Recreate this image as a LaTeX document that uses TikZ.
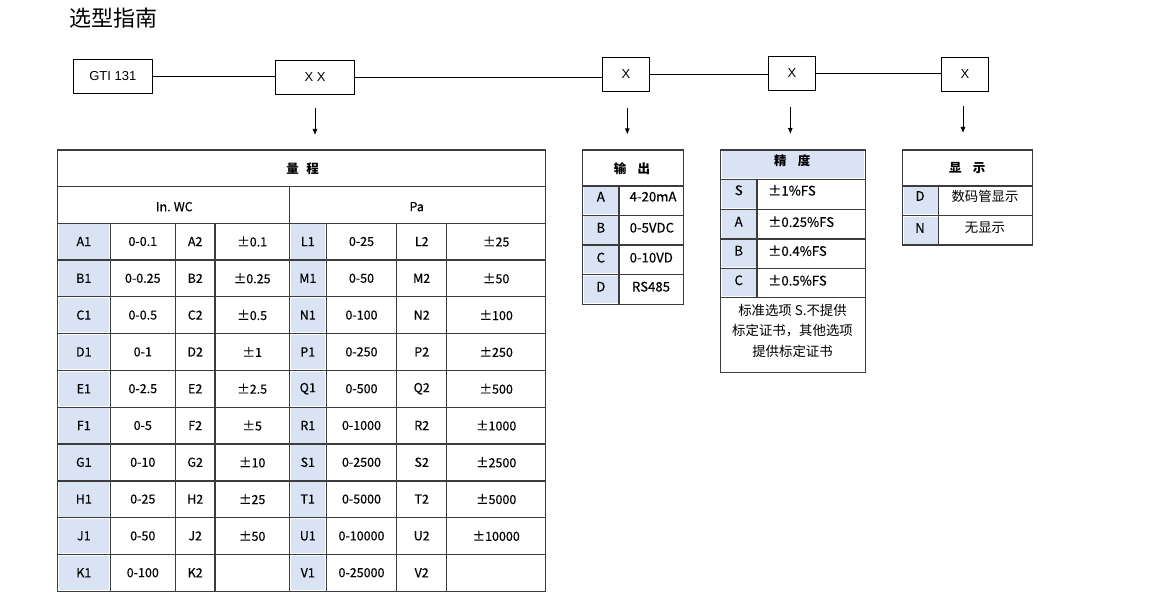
\documentclass[tikz,border=0pt]{standalone}
\usepackage{fontspec}
\setmainfont{Noto Sans CJK SC}
\newfontfamily\lat{Liberation Sans}
\newfontfamily\cellf[FakeBold=0.35]{Noto Sans CJK SC}
\newcommand\PMx{±}
\usetikzlibrary{arrows.meta}
\definecolor{lblue}{HTML}{DAE3F3}
\definecolor{grid}{HTML}{3C3C3C}
\tikzset{
  topbox/.style={draw=black,line width=1pt,minimum width=79pt,minimum height=34pt,inner sep=0pt,font=\lat\fontsize{13}{15}\selectfont},
  smallbox/.style={draw=black,line width=1pt,minimum width=47pt,minimum height=34pt,inner sep=0pt,font=\lat\fontsize{13}{15}\selectfont},
  link/.style={draw=black,line width=0.9pt},
  downarrow/.style={draw=black,line width=0.8pt,-{Latex[length=6pt,width=5pt]}},
  gridline/.style={draw=grid,line width=1.2pt},
  cell/.style={inner sep=0pt,font=\cellf\fontsize{12.5}{14}\selectfont},
  bcell/.style={inner sep=0pt,font=\cellf\fontsize{13.2}{15}\selectfont},
  head/.style={inner sep=0pt,font=\bfseries\fontsize{12.5}{14}\selectfont},
  note/.style={inner sep=0pt,font=\fontsize{13.4}{15}\selectfont},
}
\begin{document}
\begin{tikzpicture}[x=1pt,y=-1pt]
\useasboundingbox[fill=white] (0,0) rectangle (1165,609);
% title
\node[anchor=west,inner sep=0pt,font=\fontsize{22}{25}\selectfont] (title) at (69.5,18.5) {选型指南};
% top boxes
\node[topbox] (gti) at (112.8,76.3) {GTI 131};
\node[topbox] (xx) at (315,77.3) {X X};
\node[smallbox] (ox) at (626,74.5) {X};
\node[smallbox] (ax) at (792,73.5) {X};
\node[smallbox] (dx) at (965,74.5) {X};
\draw[link] (gti.east) -- (gti.east -| xx.west);
\draw[link] (xx.east) -- (xx.east -| ox.west);
\draw[link] (ox.east) -- (ox.east -| ax.west);
\draw[link] (ax.east) -- (ax.east -| dx.west);
% arrows
\coordinate (s1) at (315,108); \coordinate (e1) at (315,135);
\coordinate (s2) at (627.3,108); \coordinate (e2) at (627.3,134.5);
\coordinate (s3) at (790.3,107); \coordinate (e3) at (790.3,134);
\coordinate (s4) at (963,106); \coordinate (e4) at (963,133);
\draw[downarrow] (s1) -- (e1);
\draw[downarrow] (s2) -- (e2);
\draw[downarrow] (s3) -- (e3);
\draw[downarrow] (s4) -- (e4);
% ================= main table =================
\foreach \i in {0,...,9}{
  \fill[lblue] (58.5,{224.5+36.8*\i}) rectangle (109.3,{258.9+36.8*\i});
  \fill[lblue] (290.5,{224.5+36.8*\i}) rectangle (325.3,{258.9+36.8*\i});
}
\draw[gridline] (57.3,150) rectangle (545.7,591.3);
\draw[gridline] (57.3,186.7) -- (545.7,186.7);
\draw[gridline] (289.3,186.7) -- (289.3,591.3);
\foreach \i in {0,...,9}{
  \draw[gridline] (57.3,{223.3+36.8*\i}) -- (545.7,{223.3+36.8*\i});
}
\foreach \x in {110.3,175.3,215,326.3,396.7,446.7}{
  \draw[gridline] (\x,223.3) -- (\x,591.3);
}
\node[head] (mh) at (302.7,169) {量\hspace{0.6em}程};
\node[cell] (mu1) at (174.3,206.7) {In.\hspace{0.25em}WC};
\node[cell] (mu2) at (416.7,206.7) {Pa};
\foreach \a/\b/\c/\d/\e/\f/\g/\h [count=\i from 0] in {
  A1/0-0.1/A2/\PMx0.1/L1/0-25/L2/\PMx25,
  B1/0-0.25/B2/\PMx0.25/M1/0-50/M2/\PMx50,
  C1/0-0.5/C2/\PMx0.5/N1/0-100/N2/\PMx100,
  D1/0-1/D2/\PMx1/P1/0-250/P2/\PMx250,
  E1/0-2.5/E2/\PMx2.5/Q1/0-500/Q2/\PMx500,
  F1/0-5/F2/\PMx5/R1/0-1000/R2/\PMx1000,
  G1/0-10/G2/\PMx10/S1/0-2500/S2/\PMx2500,
  H1/0-25/H2/\PMx25/T1/0-5000/T2/\PMx5000,
  J1/0-50/J2/\PMx50/U1/0-10000/U2/\PMx10000,
  K1/0-100/K2/{}/V1/0-25000/V2/{}}{
  \pgfmathsetmacro\yy{223.3+36.8*\i+18.2}
  \node[cell] (r\i c1) at (83.8,\yy) {\a};
  \node[cell] (r\i c2) at (142.8,\yy) {\b};
  \node[cell] (r\i c3) at (195.2,\yy) {\c};
  \node[cell] (r\i c4) at (252.2,\yy) {\d};
  \node[cell] (r\i c5) at (307.8,\yy) {\e};
  \node[cell] (r\i c6) at (361.5,\yy) {\f};
  \node[cell] (r\i c7) at (421.7,\yy) {\g};
  \node[cell] (r\i c8) at (496.2,\yy) {\h};
}
% ================= output table =================
\foreach \ya/\yb in {186/215.3,215.3/245,245/274.7,274.7/304.3}{
  \fill[lblue] (583.9,\ya+1.2) rectangle (618,\yb-1.2);
}
\draw[gridline] (582.7,150) rectangle (683.7,304.3);
\foreach \y in {186,215.3,245,274.7}{\draw[gridline] (582.7,\y) -- (683.7,\y);}
\draw[gridline] (619,186) -- (619,304.3);
\node[head] (oh) at (632,168.5) {输\hspace{0.9em}出};
\node[bcell] (oa) at (600.8,196.7) {A};
\node[bcell] (ob) at (600.8,227.7) {B};
\node[bcell] (oc) at (600.8,257.7) {C};
\node[bcell] (od) at (600.8,286.7) {D};
\node[bcell,anchor=west] (oa2) at (629.5,196.7) {4-20mA};
\node[bcell,anchor=west] (ob2) at (629.5,227.7) {0-5VDC};
\node[bcell,anchor=west] (oc2) at (629.5,257.7) {0-10VD};
\node[bcell] (od2) at (651,286.7) {RS485};
% ================= accuracy table =================
\fill[lblue] (721.5,151.2) rectangle (864.1,178.1);
\foreach \ya/\yb in {179.3/209.3,209.3/239,239/268.3,268.3/297.7}{
  \fill[lblue] (721.5,\ya+1.2) rectangle (756,\yb-1.2);
}
\draw[gridline] (720.3,150) rectangle (865.3,372.3);
\foreach \y in {179.3,209.3,239,268.3,297.7}{\draw[gridline] (720.3,\y) -- (865.3,\y);}
\draw[gridline] (757,179.3) -- (757,297.7);
\node[head] (ah) at (792.3,160.5) {精\hspace{0.9em}度};
\node[bcell] (as) at (738.7,190.3) {S};
\node[bcell] (aa) at (738.7,221.7) {A};
\node[bcell] (ab) at (738.7,250.7) {B};
\node[bcell] (ac) at (738.7,280.3) {C};
\node[bcell,anchor=west] (as2) at (768,190.3) {\PMx1\%FS};
\node[bcell,anchor=west] (aa2) at (768,221.7) {\PMx0.25\%FS};
\node[bcell,anchor=west] (ab2) at (768,250.7) {\PMx0.4\%FS};
\node[bcell,anchor=west] (ac2) at (768,280.3) {\PMx0.5\%FS};
\node[note] (an1) at (792.5,310.7) {标准选项 S.不提供};
\node[note] (an2) at (792.5,331) {标定证书，其他选项};
\node[note] (an3) at (792.5,351.7) {提供标定证书};
% ================= display table =================
\foreach \ya/\yb in {186/215.7,215.7/245}{
  \fill[lblue] (903.9,\ya+1.2) rectangle (937.7,\yb-1.2);
}
\draw[gridline] (902.7,150) rectangle (1032.7,245);
\foreach \y in {186,215.7}{\draw[gridline] (902.7,\y) -- (1032.7,\y);}
\draw[gridline] (938.7,186) -- (938.7,245);
\node[head] (dh) at (967.3,168.5) {显\hspace{0.9em}示};
\node[bcell] (dd) at (920,196) {D};
\node[bcell] (dn) at (920,228) {N};
\node[note] (dd2) at (985,196) {数码管显示};
\node[note] (dn2) at (985,228) {无显示};
\end{tikzpicture}
\end{document}
